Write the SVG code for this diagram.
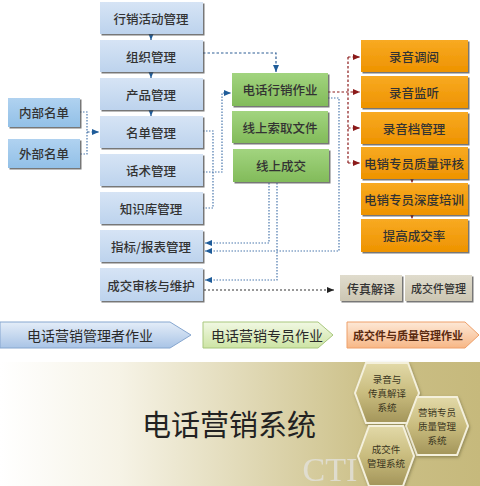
<svg xmlns="http://www.w3.org/2000/svg" width="480" height="486" viewBox="0 0 480 486">
<defs>
<linearGradient id="gBlue" x1="0" y1="0" x2="0" y2="1"><stop offset="0" stop-color="#d6e4f5"/><stop offset="1" stop-color="#bdd3ed"/></linearGradient>
<linearGradient id="gName" x1="0" y1="0" x2="0" y2="1"><stop offset="0" stop-color="#b0d2f0"/><stop offset="1" stop-color="#92c0e7"/></linearGradient>
<linearGradient id="gGreen" x1="0" y1="0" x2="0" y2="1"><stop offset="0" stop-color="#a2d47f"/><stop offset="1" stop-color="#82bb5a"/></linearGradient>
<linearGradient id="gOrange" x1="0" y1="0" x2="0" y2="1"><stop offset="0" stop-color="#f8aa22"/><stop offset="1" stop-color="#ee9300"/></linearGradient>
<linearGradient id="gGray" x1="0" y1="0" x2="0" y2="1"><stop offset="0" stop-color="#e0dccd"/><stop offset="1" stop-color="#ccc6b3"/></linearGradient>
<linearGradient id="gLegB" x1="0" y1="0" x2="0" y2="1"><stop offset="0" stop-color="#e4edf8"/><stop offset="1" stop-color="#a9c4e6"/></linearGradient>
<linearGradient id="gLegG" x1="0" y1="0" x2="0" y2="1"><stop offset="0" stop-color="#f1f8e3"/><stop offset="1" stop-color="#cde4a4"/></linearGradient>
<linearGradient id="gLegO" x1="0" y1="0" x2="0" y2="1"><stop offset="0" stop-color="#fde8d6"/><stop offset="1" stop-color="#f7b786"/></linearGradient>
<linearGradient id="gBand" x1="0" y1="0" x2="1" y2="0"><stop offset="0" stop-color="#ffffff"/><stop offset="0.25" stop-color="#f6f3e6"/><stop offset="0.78" stop-color="#cbbf86"/><stop offset="1" stop-color="#c6b97c"/></linearGradient>
<linearGradient id="gHex" x1="0" y1="0" x2="0" y2="1"><stop offset="0" stop-color="#e2d9a8"/><stop offset="0.5" stop-color="#c9bc7e"/><stop offset="1" stop-color="#a3955a"/></linearGradient>
<filter id="sh" x="-10%" y="-10%" width="130%" height="140%"><feDropShadow dx="1.5" dy="1.5" stdDeviation="0.7" flood-color="#4a4a4a" flood-opacity="0.75"/></filter>
<filter id="sh2" x="-20%" y="-20%" width="150%" height="150%"><feDropShadow dx="1" dy="1.5" stdDeviation="1.5" flood-color="#6b6237" flood-opacity="0.6"/></filter>
<marker id="aB" markerUnits="userSpaceOnUse" markerWidth="8" markerHeight="8" refX="7" refY="4" orient="auto"><path d="M0,1 L7,4 L0,7 Z" fill="#1f5c99"/></marker>
<marker id="aR" markerUnits="userSpaceOnUse" markerWidth="8" markerHeight="8" refX="7" refY="4" orient="auto"><path d="M0,1 L7,4 L0,7 Z" fill="#8b1a1a"/></marker>
<marker id="aK" markerUnits="userSpaceOnUse" markerWidth="8" markerHeight="8" refX="7" refY="4" orient="auto"><path d="M0,1 L7,4 L0,7 Z" fill="#222"/></marker>
</defs>
<style>
text{font-family:"Noto Sans CJK SC","Noto Sans",sans-serif;text-anchor:middle;dominant-baseline:central;}
.t{font-size:12.5px;fill:#333;font-weight:500;}
.mb{fill:url(#gBlue);filter:url(#sh);}
.nb{fill:url(#gName);filter:url(#sh);}
.gb{fill:url(#gGreen);filter:url(#sh);}
.ob{fill:url(#gOrange);filter:url(#sh);}
.yb{fill:url(#gGray);filter:url(#sh);}
.cb{fill:none;stroke:#4b78ad;stroke-width:1.2;stroke-dasharray:1.5 1.5;}
.cbd{fill:none;stroke:#2e5f96;stroke-width:1.2;stroke-dasharray:2.5 2;}
.cr{fill:none;stroke:#8b1a1a;stroke-width:1.2;stroke-dasharray:2.5 2;}
.ck{fill:none;stroke:#333;stroke-width:1.2;stroke-dasharray:2 2;}
.hx{fill:url(#gHex);stroke:#f4f0dc;stroke-width:2;filter:url(#sh2);}
.ht{font-size:9.5px;fill:#3a3520;}
</style>

<!-- bottom band -->
<rect x="0" y="362" width="480" height="124" fill="url(#gBand)"/>
<text x="229" y="423" style="font-size:29px;fill:#222;">电话营销系统</text>
<text x="330" y="469" style="font-family:'Liberation Serif',serif;font-size:34px;fill:#e2e0d8;opacity:0.85;">CTI</text>

<g id="hex1"><polygon class="hx" points="355,393 366,363 408,363 419,393 408,423 366,423"/>
<text class="ht" x="387" y="379">录音与</text><text class="ht" x="387" y="393">传真解译</text><text class="ht" x="387" y="407">系统</text></g>
<g id="hex2"><polygon class="hx" points="406,426 417,397 457,397 468,426 457,455 417,455"/>
<text class="ht" x="437" y="412">营销专员</text><text class="ht" x="437" y="426">质量管理</text><text class="ht" x="437" y="440">系统</text></g>
<g id="hex3"><polygon class="hx" points="358,456 369,426 403,426 414,456 403,486 369,486"/>
<text class="ht" x="386" y="449">成交件</text><text class="ht" x="386" y="463">管理系统</text></g>

<!-- legend -->
<g id="legend1"><polygon points="0,322 170,322 191,335 170,348 0,348" fill="url(#gLegB)" stroke="#86a6cf" stroke-width="1"/>
<text x="90" y="335" style="font-size:14px;fill:#2a2a2a;">电话营销管理者作业</text></g>
<g id="legend2"><polygon points="203,322 318,322 333,335 318,348 203,348" fill="url(#gLegG)" stroke="#a8c77c" stroke-width="1"/>
<text x="267" y="335" style="font-size:14px;fill:#2a2a2a;">电话营销专员作业</text></g>
<g id="legend3"><polygon points="347,322 465,322 479,335 465,348 347,348" fill="url(#gLegO)" stroke="#eea06a" stroke-width="1"/>
<text x="408" y="335" style="font-size:11px;fill:#5a2a10;font-weight:700;">成交件与质量管理作业</text></g>

<!-- connectors -->
<g id="connectors">
<path class="cbd" d="M151,34 V40" marker-end="url(#aB)"/>
<path class="cbd" d="M151,72 V78" marker-end="url(#aB)"/>
<path class="cbd" d="M151,110 V116" marker-end="url(#aB)"/>
<path class="cbd" d="M203,53 H276 V72" marker-end="url(#aB)"/>
<path class="cb" d="M80,112 H87 V154 H80"/>
<path class="cbd" d="M87,132 H99" marker-end="url(#aB)"/>
<path class="cb" d="M203,131 H213 V208 H203"/>
<path class="cb" d="M203,172 H222 V93 H231" marker-end="url(#aB)"/>
<path class="cr" d="M328,92 H360" marker-end="url(#aR)"/>
<path class="cr" d="M348,57 V163"/>
<path class="cr" d="M348,57 H360" marker-end="url(#aR)"/>
<path class="cr" d="M348,128 H360" marker-end="url(#aR)"/>
<path class="cr" d="M348,163 H360" marker-end="url(#aR)"/>
<path class="cr" d="M412,179 V183" marker-end="url(#aR)"/>
<path class="cr" d="M412,215 V219" marker-end="url(#aR)"/>
<path class="cb" d="M328,98 H339 V251 H205" marker-end="url(#aB)"/>
<path class="cb" d="M269,183 V243 H205" marker-end="url(#aB)"/>
<path class="cb" d="M277,183 V280 H205" marker-end="url(#aB)"/>
<path class="ck" d="M204,290 H334" marker-end="url(#aK)"/>
</g>

<!-- left column -->
<g id="n1"><rect class="mb" x="100" y="2" width="103" height="32"/><text class="t" x="151" y="18">行销活动管理</text></g>
<g id="n2"><rect class="mb" x="100" y="40" width="103" height="32"/><text class="t" x="151" y="56">组织管理</text></g>
<g id="n3"><rect class="mb" x="100" y="78" width="103" height="32"/><text class="t" x="151" y="94">产品管理</text></g>
<g id="n4"><rect class="mb" x="100" y="116" width="103" height="32"/><text class="t" x="151" y="132">名单管理</text></g>
<g id="n5"><rect class="mb" x="100" y="154" width="103" height="32"/><text class="t" x="151" y="170">话术管理</text></g>
<g id="n6"><rect class="mb" x="100" y="192" width="103" height="32"/><text class="t" x="151" y="208">知识库管理</text></g>
<g id="n7"><rect class="mb" x="100" y="230" width="103" height="32"/><text class="t" x="151" y="246">指标/报表管理</text></g>
<g id="n8"><rect class="mb" x="100" y="268" width="103" height="33"/><text class="t" x="151" y="285">成交审核与维护</text></g>

<g id="inner"><rect class="nb" x="8" y="98" width="72" height="29"/><text class="t" x="44" y="112.5">内部名单</text></g>
<g id="outer"><rect class="nb" x="8" y="139" width="72" height="29"/><text class="t" x="44" y="153.5">外部名单</text></g>

<!-- green -->
<g id="g1"><rect class="gb" x="232" y="73" width="96" height="33"/><text class="t" x="280" y="89.5">电话行销作业</text></g>
<g id="g2"><rect class="gb" x="232" y="111" width="96" height="32"/><text class="t" x="280" y="127">线上索取文件</text></g>
<g id="g3"><rect class="gb" x="233" y="149" width="96" height="33"/><text class="t" x="281" y="165.5">线上成交</text></g>

<!-- orange -->
<g id="o1"><rect class="ob" x="361" y="40" width="107" height="32"/><text class="t" x="414" y="56">录音调阅</text></g>
<g id="o2"><rect class="ob" x="361" y="76" width="107" height="32"/><text class="t" x="414" y="92">录音监听</text></g>
<g id="o3"><rect class="ob" x="361" y="112" width="107" height="32"/><text class="t" x="414" y="128">录音档管理</text></g>
<g id="o4"><rect class="ob" x="361" y="147" width="107" height="32"/><text class="t" x="414" y="163">电销专员质量评核</text></g>
<g id="o5"><rect class="ob" x="361" y="183" width="107" height="32"/><text class="t" x="414" y="199">电销专员深度培训</text></g>
<g id="o6"><rect class="ob" x="361" y="219" width="107" height="33"/><text class="t" x="414" y="235.5">提高成交率</text></g>

<!-- gray -->
<g id="y1"><rect class="yb" x="340" y="275" width="62" height="26"/><text class="t" x="371" y="288" style="font-size:12px">传真解译</text></g>
<g id="y2"><rect class="yb" x="405" y="275" width="67" height="26"/><text class="t" x="438.5" y="288" style="font-size:11px">成交件管理</text></g>
</svg>
